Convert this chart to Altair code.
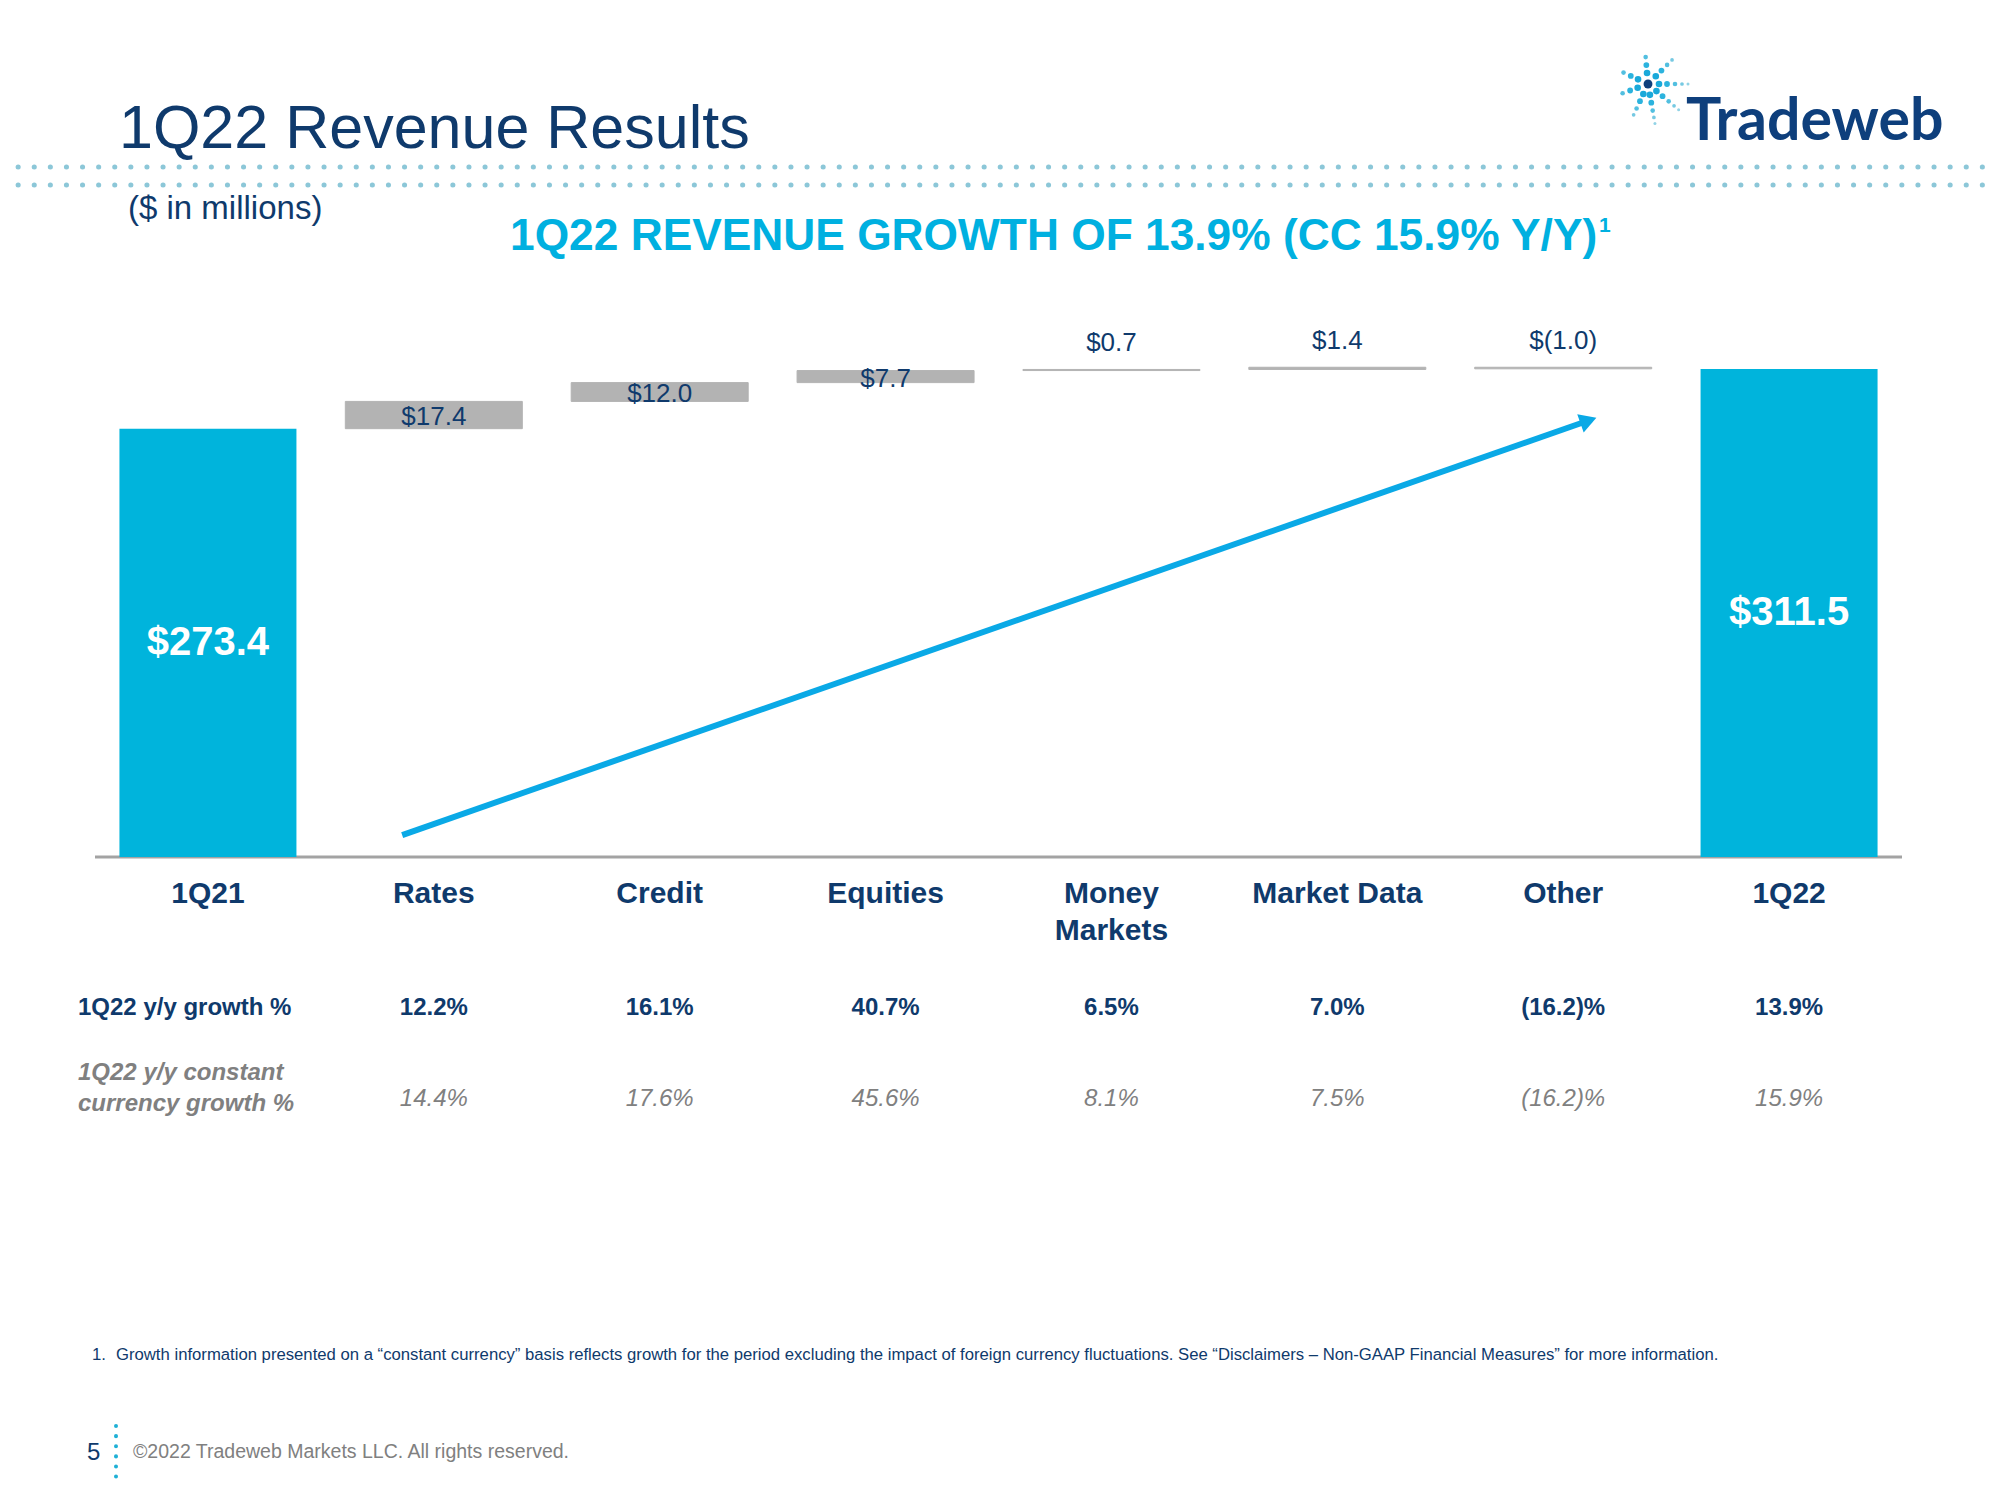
import math
import altair as alt
import pandas as pd

# ---------------- data ----------------
categories = ["1Q21", "Rates", "Credit", "Equities", "Money Markets", "Market Data", "Other", "1Q22"]
cat_labels = ["1Q21", "Rates", "Credit", "Equities", "Money\nMarkets", "Market Data", "Other", "1Q22"]
start_total = 273.4
end_total = 311.5
start_label = "$273.4"
end_label = "$311.5"
deltas = [17.4, 12.0, 7.7, 0.7, 1.4, -1.0]
delta_labels = ["$17.4", "$12.0", "$7.7", "$0.7", "$1.4", "$(1.0)"]
growth = ["12.2%", "16.1%", "40.7%", "6.5%", "7.0%", "(16.2)%", "13.9%"]
cc_growth = ["14.4%", "17.6%", "45.6%", "8.1%", "7.5%", "(16.2)%", "15.9%"]
# arrow endpoints: category position (0 = left edge of first slot) and $ value
arrow_pos = [1.36, 6.60]
arrow_vals = [14, 278]

title_text = "1Q22 Revenue Results"
unit_text = "($ in millions)"
subtitle_text = "1Q22 REVENUE GROWTH OF 13.9% (CC 15.9% Y/Y)"
row1_label = "1Q22 y/y growth %"
row2_label = "1Q22 y/y constant\ncurrency growth %"
footnote_num = "1."
footnote_text = ("Growth information presented on a \u201cconstant currency\u201d basis reflects growth for the period "
                 "excluding the impact of foreign currency fluctuations. See \u201cDisclaimers \u2013 Non-GAAP Financial "
                 "Measures\u201d for more information.")
page_num = "5"
copyright_text = "\u00a92022 Tradeweb Markets LLC. All rights reserved."

# ---------------- styling ----------------
NAVY = "#0f3a6c"
CYAN = "#00b4dc"
GRAY_BAR = "#b3b3b3"
GRAY_TXT = "#808080"
ARROW = "#0aa9e6"
DOTS = "#8cc7d8"
FONT = "Liberation Sans"

L, T, W, H = 87, 332, 1807, 517
TOTAL_W, TOTAL_H = 1984, 1475
R = TOTAL_W - L - W
B = TOTAL_H - T - H
YMAX = 330
NCAT = len(categories)
BAR_W = 177

# ---------------- frames ----------------
pos = {c: i + 0.5 for i, c in enumerate(categories)}
rows = [dict(cat=categories[0], y0=0.0, y1=start_total, kind="total", label=start_label)]
c = start_total
for cat, d, lab in zip(categories[1:-1], deltas, delta_labels):
    rows.append(dict(cat=cat, y0=c, y1=c + d, kind="delta", label=lab))
    c += d
rows.append(dict(cat=categories[-1], y0=0.0, y1=end_total, kind="total", label=end_label))
bars = pd.DataFrame(rows)
bars["xc"] = bars["cat"].map(pos)
bars["mid"] = (bars["y0"] + bars["y1"]) / 2
bars["top"] = bars[["y0", "y1"]].max(axis=1)
bars["big"] = (bars["y1"] - bars["y0"]).abs() >= 5

cats_df = pd.DataFrame({"cat": categories, "lab": cat_labels})
cats_df["xc"] = cats_df["cat"].map(pos)
table_df = pd.DataFrame({"cat": categories[1:], "g": growth, "cc": cc_growth})
table_df["xc"] = table_df["cat"].map(pos)
arrow_df = pd.DataFrame({"x1": [arrow_pos[0]], "x2": [arrow_pos[1]], "v1": [arrow_vals[0]], "v2": [arrow_vals[1]]})

xscale = alt.Scale(domain=[0, NCAT], nice=False, zero=False, padding=0)
yscale = alt.Scale(domain=[0, YMAX], nice=False, zero=False, padding=0)
X = alt.X("xc:Q", scale=xscale, axis=None)

base = alt.Chart(bars)

total_bars = base.transform_filter("datum.kind == 'total'").mark_bar(color=CYAN, width=BAR_W).encode(
    x=X, y=alt.Y("y0:Q", scale=yscale, axis=None), y2="y1:Q")
delta_bars = base.transform_filter("datum.kind == 'delta'").mark_bar(
    color=GRAY_BAR, stroke=GRAY_BAR, strokeWidth=1, width=BAR_W).encode(
    x=X, y=alt.Y("y0:Q", scale=yscale, axis=None), y2="y1:Q")

total_lbl = base.transform_filter("datum.kind == 'total'").mark_text(
    font=FONT, fontSize=40, fontWeight="bold", color="white", baseline="middle").encode(
    x=X, y=alt.Y("mid:Q", scale=yscale, axis=None), text="label:N")
delta_in_lbl = base.transform_filter("datum.kind == 'delta' && datum.big").mark_text(
    font=FONT, fontSize=26, color=NAVY, baseline="middle", dy=2).encode(
    x=X, y=alt.Y("mid:Q", scale=yscale, axis=None), text="label:N")
delta_out_lbl = base.transform_filter("datum.kind == 'delta' && !datum.big").mark_text(
    font=FONT, fontSize=26, color=NAVY, baseline="middle", dy=-26).encode(
    x=X, y=alt.Y("top:Q", scale=yscale, axis=None), text="label:N")

axis_line = alt.Chart(pd.DataFrame({"v": [0]})).mark_rule(color="#a3a3a3", strokeWidth=3).encode(
    y=alt.Y("v:Q", scale=yscale, axis=None), x=alt.value(0), x2=alt.value(W))

arrow_line = alt.Chart(arrow_df).mark_rule(color=ARROW, strokeWidth=6).encode(
    x=alt.X("x1:Q", scale=xscale, axis=None), x2="x2:Q",
    y=alt.Y("v1:Q", scale=yscale, axis=None), y2="v2:Q")
arrow_head = alt.Chart(arrow_df).mark_point(shape="triangle", filled=True, color=ARROW, opacity=1,
                                            size=380, angle=70.7).encode(
    x=alt.X("x2:Q", scale=xscale, axis=None), y=alt.Y("v2:Q", scale=yscale, axis=None))

cat_text = alt.Chart(cats_df).mark_text(font=FONT, fontSize=30, fontWeight="bold", color=NAVY,
                                        baseline="alphabetic", lineBreak="\n", lineHeight=37).encode(
    x=X, y=alt.value(563), text="lab:N")

row1 = alt.Chart(table_df).mark_text(font=FONT, fontSize=24, fontWeight="bold", color=NAVY,
                                     baseline="alphabetic").encode(
    x=X, y=alt.value(675), text="g:N")
row2 = alt.Chart(table_df).mark_text(font=FONT, fontSize=24, fontStyle="italic", color=GRAY_TXT,
                                     baseline="alphabetic").encode(
    x=X, y=alt.value(766), text="cc:N")


def label(txt, x, y, **kw):
    props = dict(font=FONT, align="left", baseline="alphabetic", lineBreak="\n")
    props.update(kw)
    return alt.Chart(pd.DataFrame({"t": [txt]})).mark_text(**props).encode(
        x=alt.value(x), y=alt.value(y), text="t:N")


texts = [
    label(title_text, 24, -192, fontSize=61, color=NAVY),
    label(unit_text, 33, -121, fontSize=33, color=NAVY),
    label(subtitle_text, 415, -90, fontSize=44.3, fontWeight="bold", color="#00b0e0"),
    label("1", 1504, -108, fontSize=21, fontWeight="bold", color="#00b0e0"),
    label(row1_label, -17, 675, fontSize=24, fontWeight="bold", color=NAVY),
    label(row2_label, -17, 740, fontSize=24, fontWeight="bold", fontStyle="italic", color=GRAY_TXT,
          lineHeight=31),
    label(footnote_num, -3, 1020, fontSize=16.7, color=NAVY),
    label(footnote_text, 21, 1020, fontSize=16.7, color=NAVY),
    label(page_num, -8, 1120, fontSize=24, color=NAVY),
    label(copyright_text, 38, 1118, fontSize=19.5, color=GRAY_TXT),
    label("Tradeweb", 1591, -200, font="Lato", fontSize=59, fontWeight="bold", color="#0e3f7c"),
]

deco = []
for yy in (-173, -155):
    deco.append(alt.Chart(pd.DataFrame({"k": [0]})).mark_rule(
        color=DOTS, strokeWidth=5, strokeDash=[0.1, 16], strokeCap="round").encode(
        x=alt.value(-93), x2=alt.value(TOTAL_W - L), y=alt.value(yy)))
deco.append(alt.Chart(pd.DataFrame({"k": [0]})).mark_rule(
    color="#1fb0d5", strokeWidth=4, strokeDash=[0.1, 10], strokeCap="round").encode(
    x=alt.value(21), y=alt.value(1086), y2=alt.value(1138)))

# ---------------- logo starburst (decorative) ----------------
cx, cy = 1553, -256          # centre in plot pixels
rays = [(0, 5), (40, 5), (80, 5), (115, 4), (160, 3), (205, 3), (265, 3), (315, 4)]
radii = [11, 19, 27, 34, 40]
diams = [7.5, 6.5, 5.2, 4.2, 3.4]
shades = ["#1aa9da", "#2cb3de", "#52bfe0", "#76c9e2", "#92d3e6"]
px2x = NCAT / W
px2y = YMAX / H
logo_layers = []
for i in range(5):
    pts = []
    for ang, n in rays:
        if i < n:
            a = math.radians(ang)
            px_ = cx + radii[i] * math.cos(a)
            py_ = cy + radii[i] * math.sin(a)
            pts.append(dict(lx=px_ * px2x, ly=(H - py_) * px2y))
    logo_layers.append(alt.Chart(pd.DataFrame(pts)).mark_circle(
        opacity=1, color=shades[i], size=math.pi * diams[i] ** 2 / 4).encode(
        x=alt.X("lx:Q", scale=xscale, axis=None), y=alt.Y("ly:Q", scale=yscale, axis=None)))
logo_layers.append(alt.Chart(pd.DataFrame([dict(lx=cx * px2x, ly=(H - cy) * px2y)])).mark_circle(
    opacity=1, color="#0e3f7c", size=math.pi * 10 ** 2 / 4).encode(
    x=alt.X("lx:Q", scale=xscale, axis=None), y=alt.Y("ly:Q", scale=yscale, axis=None)))

chart = alt.layer(*deco, axis_line, total_bars, delta_bars, arrow_line, arrow_head,
                  total_lbl, delta_in_lbl, delta_out_lbl, cat_text, row1, row2, *texts,
                  *logo_layers).properties(
    width=W, height=H,
    padding={"left": L, "top": T, "right": R, "bottom": B},
    autosize=alt.AutoSizeParams(type="none"),
    background="white",
).configure_view(stroke=None)

chart.save("out.html", embed_options={"renderer": "svg", "actions": False})
